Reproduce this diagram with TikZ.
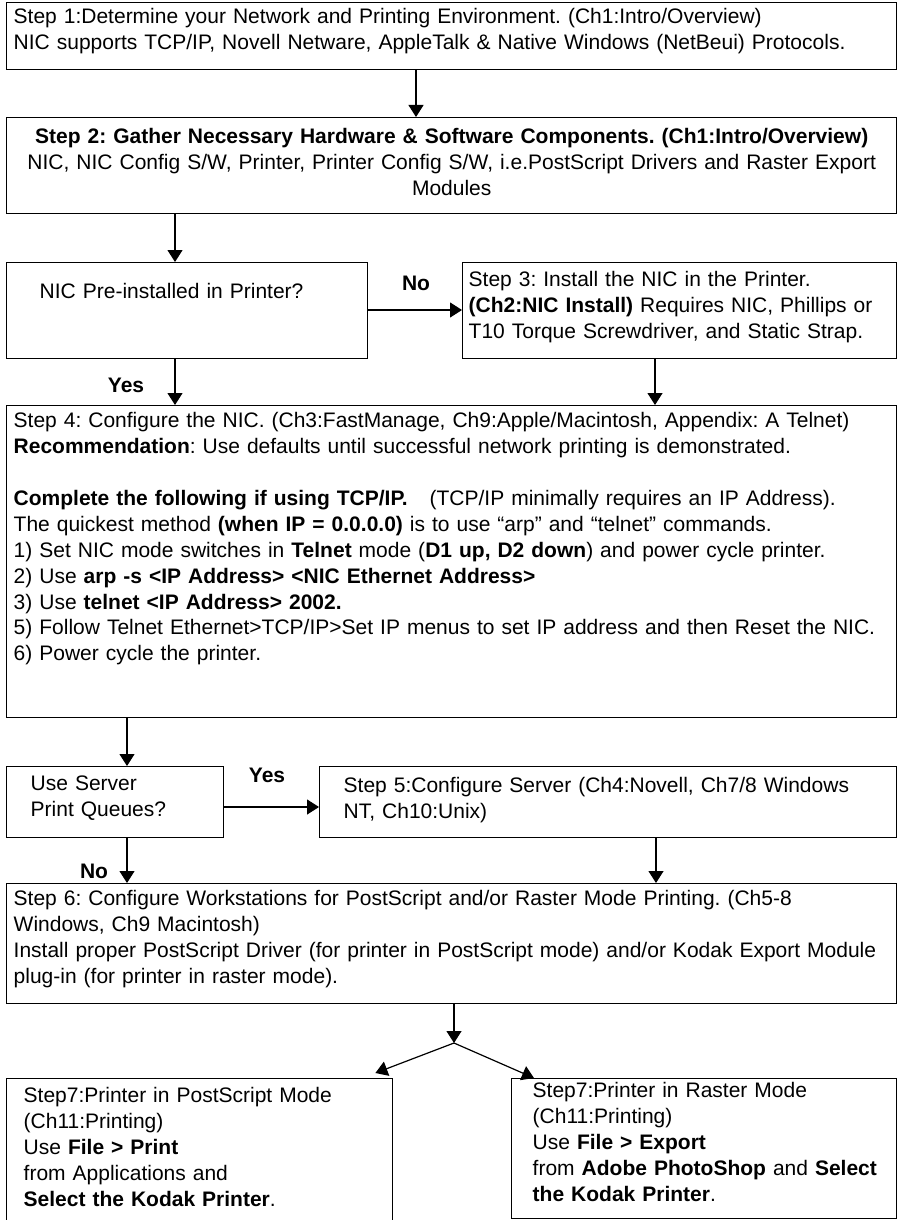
\documentclass[tikz,border=0pt]{standalone}
\usepackage{fontspec}
\setmainfont{Liberation Sans}
\usepackage{tikz}
\usetikzlibrary{arrows.meta}
\frenchspacing
\tikzset{
    stepbox/.style={draw, line width=1.4pt, anchor=north west, inner ysep=0pt, align=left, font=\fontsize{21}{25.9}\selectfont},
    flow/.style={-{Triangle[length=12pt, width=15pt]}, line width=1.2pt},
    answer/.style={anchor=base, inner sep=0pt, font=\bfseries\fontsize{21}{25.9}\selectfont}
}

\begin{document}
\begin{tikzpicture}[x=1pt, y=-1pt]
    \useasboundingbox (0,0) rectangle (899,1220);
    \fill[white] (0,0) rectangle (899,1220);
    \clip (0,0) rectangle (899,1220);
    % steps 1 and 2
    \node[stepbox, inner xsep=7pt, text width=876pt, text height=21pt, text depth=46pt] (s1) at (6,2)
        {Step 1:Determine your Network and Printing Environment. (Ch1:Intro/Overview)\\
         NIC supports TCP/IP, Novell Netware, AppleTalk \& Native Windows (NetBeui) Protocols.};
    \node[stepbox, align=center, inner xsep=7pt, text width=876pt, text height=26pt, text depth=70pt] (s2) at (6,117)
        {\textbf{Step 2: Gather Necessary Hardware \& Software Components. (Ch1:Intro/Overview)}\\
         \mbox{NIC, NIC Config S/W, Printer, Printer Config S/W, i.e.PostScript Drivers and Raster Export}\\
         Modules};
    % NIC question and step 3
    \node[stepbox, inner xsep=33pt, text width=295pt, text height=36pt, text depth=60pt] (q1) at (6,262)
        {NIC Pre-installed in Printer?};
    \node[stepbox, inner xsep=6pt, text width=422pt, text height=24pt, text depth=72pt] (s3) at (462,262)
        {Step 3: Install the NIC in the Printer.\\
         \textbf{(Ch2:NIC Install)} Requires NIC, Phillips or\\
         T10 Torque Screwdriver, and Static Strap.};
    % step 4
    \node[stepbox, inner xsep=7pt, text width=876pt, text height=22pt, text depth=290pt] (s4) at (6,405)
        {Step 4: Configure the NIC. (Ch3:FastManage, Ch9:Apple/Macintosh, Appendix: A Telnet)\\
         \textbf{Recommendation}: Use defaults until successful network printing is demonstrated.\\[25.9pt]
         \textbf{Complete the following if using TCP/IP.}\hspace{22pt}(TCP/IP minimally requires an IP Address).\\
         The quickest method \textbf{(when IP = 0.0.0.0)} is to use “arp” and “telnet” commands.\\
         \mbox{1) Set NIC mode switches in \textbf{Telnet} mode (\textbf{D1 up, D2 down}) and power cycle printer.}\\
         2) Use \textbf{arp -s <IP Address> <NIC Ethernet Address>}\\
         3) Use \textbf{telnet <IP Address> 2002.}\\
         \mbox{5) Follow Telnet Ethernet>TCP/IP>Set IP menus to set IP address and then Reset the NIC.}\\
         6) Power cycle the printer.};
    % server question and step 5
    \node[stepbox, inner xsep=24pt, text width=169pt, text height=24pt, text depth=47pt] (q2) at (6,766)
        {Use Server\\ Print Queues?};
    \node[stepbox, inner xsep=24pt, text width=529pt, text height=26pt, text depth=45pt] (s5) at (319,766)
        {\mbox{Step 5:Configure Server (Ch4:Novell, Ch7/8 Windows}\\ NT, Ch10:Unix)};
    % step 6
    \node[stepbox, inner xsep=7pt, text width=876pt, text height=22pt, text depth=98pt] (s6) at (6,883)
        {Step 6: Configure Workstations for PostScript and/or Raster Mode Printing. (Ch5-8\\
         Windows, Ch9 Macintosh)\\
         \mbox{Install proper PostScript Driver (for printer in PostScript mode) and/or Kodak Export Module}\\
         plug-in (for printer in raster mode).};
    % step 7, both modes
    \node[stepbox, inner xsep=17pt, text width=352pt, text height=24pt, text depth=126pt] (s7a) at (6,1078)
        {Step7:Printer in PostScript Mode\\
         (Ch11:Printing)\\
         Use \textbf{File > Print}\\
         from Applications and\\
         \textbf{Select the Kodak Printer}.};
    \node[stepbox, inner xsep=21pt, text width=343pt, text height=19pt, text depth=121pt] (s7b) at (511,1078)
        {Step7:Printer in Raster Mode\\
         (Ch11:Printing)\\
         Use \textbf{File > Export}\\
         \mbox{from \textbf{Adobe PhotoShop} and \textbf{Select}}\\
         \textbf{the Kodak Printer}.};
    % answers
    \node[answer] (no1) at (416,290) {No};
    \node[answer] (yes1) at (126,392) {Yes};
    \node[answer] (yes2) at (267,782) {Yes};
    \node[answer] (no2) at (94,878) {No};
    % connectors
    \draw[flow] (s1.south -| 416,0) -- (s2.north -| 416,0);
    \draw[flow] (s2.south -| 175,0) -- (q1.north -| 175,0);
    \draw[flow] (q1.east |- 0,310) -- (s3.west |- 0,310); % No
    \draw[flow] (q1.south -| 175,0) -- (s4.north -| 175,0); % Yes
    \draw[flow] (s3.south -| 655,0) -- (s4.north -| 655,0);
    \draw[flow] (s4.south -| 127,0) -- (q2.north -| 127,0);
    \draw[flow] (q2.east |- 0,807) -- (s5.west |- 0,807); % Yes
    \draw[flow] (q2.south -| 127,0) -- (s6.north -| 127,0); % No
    \draw[flow] (s5.south -| 656,0) -- (s6.north -| 656,0);
    \coordinate (split) at (454,1043);
    \draw[flow] (s6.south -| split) -- (split);
    \draw[flow] (split) -- ([xshift=-18pt, yshift=5pt]s7a.north east);
    \draw[flow] (split) -- ([xshift=23pt]s7b.north west);
\end{tikzpicture}
\end{document}
